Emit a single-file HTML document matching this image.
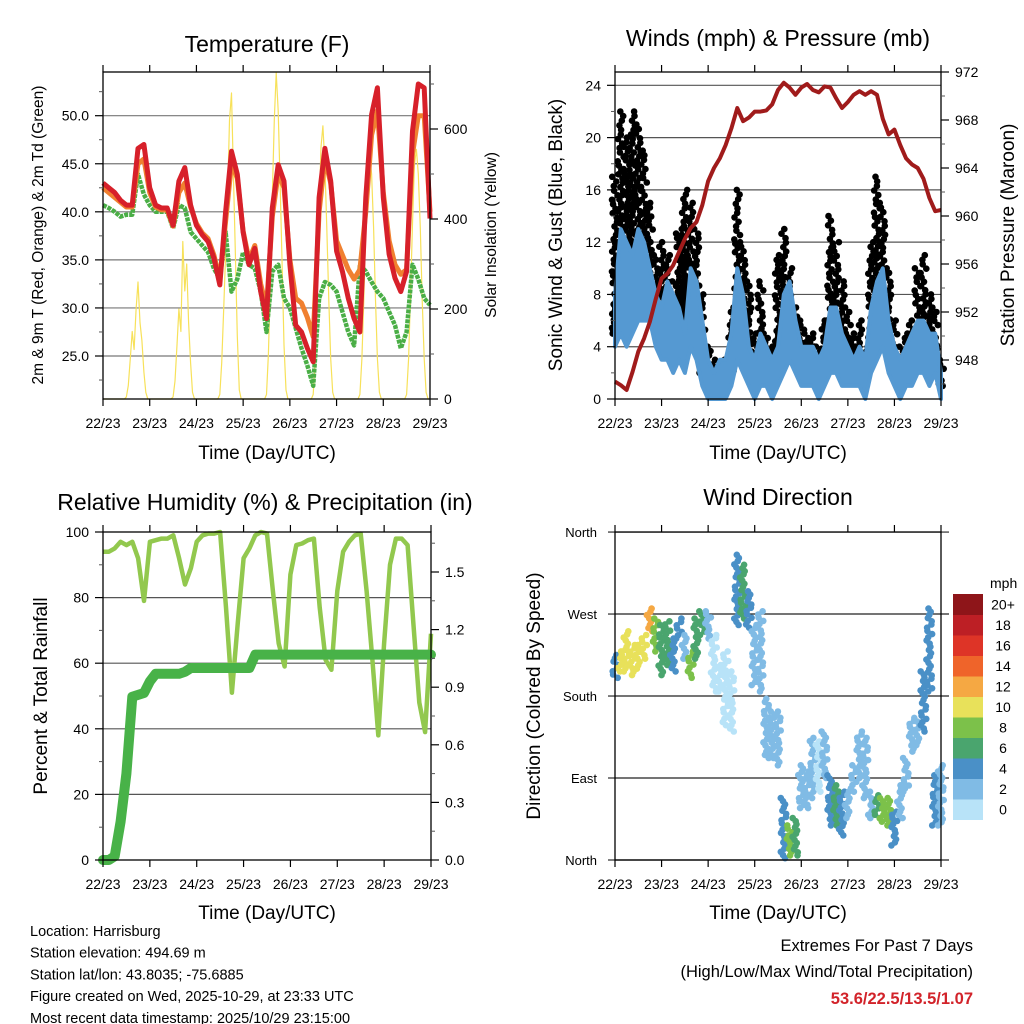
<!DOCTYPE html>
<html><head><meta charset="utf-8"><style>
html,body{margin:0;padding:0;background:#fff}
svg{display:block;font-family:"Liberation Sans",Arial,sans-serif}
</style></head><body>
<svg id="c" width="1024" height="1024" viewBox="0 0 1024 1024">
<rect x="0" y="0" width="1024" height="1024" fill="#fff"/>
<g id="g"></g>
</svg>
<script>
// ---------- DATA (3-hourly, index i -> hour 3*i) ----------
const dayLabels = ["22/23","23/23","24/23","25/23","26/23","27/23","28/23","29/23"];
const temp2m = [43,42.5,42,41.2,40.7,40.7,46.6,47,42.5,40.7,40.4,40.4,38.6,43.2,44.6,40.7,38.6,37.6,36.9,35.2,32.4,40,46.3,43.9,37.9,34.5,36.2,31.7,28.9,40.4,44.9,43.2,34.5,28.2,27.5,25.8,24.4,41.5,46.6,43.2,35.9,33.8,31,28.9,27.5,41.5,50.1,52.9,41.5,35.6,33.1,31.7,33.8,48.4,53.3,52.9,39.3];
const temp9m = [42.5,42,41.5,41,40.5,40.5,45,45.5,42,40.5,40.2,40.2,38.5,42,43,40.5,38.8,37.8,37.2,35.5,33,39,45,43.5,38,35,36.5,32.5,30,39.5,44,42.5,35,31,30.5,29,27,40,45.5,43,37,35.5,34,33,34,40,48,50.5,42,37,34.5,33.5,34,46,50,50,40];
const dewpt = [40.7,40.4,40,39.5,39.7,39.7,43.9,41.8,40.7,40,40,40,38.3,40.7,40.4,37.9,37.2,36.5,35.8,34.1,33,37.9,31.7,33,35.8,34.5,34.1,31.7,27.5,33.8,34.5,31,30,27.9,25.8,24,21.9,31,32.7,32.4,31.7,29.6,27.5,26.1,34.5,33.8,32.7,31.7,31,29.6,28.2,25.8,27.5,34.5,33,31,30.3];
// hourly solar insolation (169 values)
const solar = [
0,0,0,0,0,0,0,0,0,0,0,0, 5,30,90,150,110,200,260,170,130,60,15,0,
0,0,0,0,0,0,0,0,0,0,0,0, 5,40,120,200,150,350,240,300,170,80,15,0,
0,0,0,0,0,0,0,0,0,0,0,0, 10,80,200,320,450,620,680,500,320,140,20,0,
0,0,0,0,0,0,0,0,0,0,0,0, 10,100,260,450,620,725,640,480,300,120,20,0,
0,0,0,0,0,0,0,0,0,0,0,0, 10,90,240,420,560,607,520,380,220,90,15,0,
0,0,0,0,0,0,0,0,0,0,0,0, 10,90,220,380,500,540,500,380,220,90,15,0,
0,0,0,0,0,0,0,0,0,0,0,0, 10,90,230,390,520,555,500,380,220,90,15,0,
0];
const pressure = [946.2,945.9,945.5,947,948.7,949.8,951.2,953.1,954.8,955.2,955.9,957,958.1,959,959.5,960.9,962.9,964,964.8,965.9,967.3,969,967.9,968.2,968.7,968.7,968.8,969.3,970.5,971.1,970.7,970.1,970.7,971,970.5,970.3,970.8,970.7,969.8,969,969.5,970.1,970.4,970.1,970.4,970.1,968.1,966.8,967.2,965.9,964.8,964.3,964,963.1,961.5,960.4,960.5];
const windLo = [4,5,4,5,6,6,6,4,3,3,2,3,2,4,3,1,0,0,0,0,1,3,2,1,0,1,1,0,1,2,3,2,1,1,1,0,1,2,2,1,1,1,1,0,2,3,4,2,1,0,1,1,2,2,1,2,0];
const windHi = [8,13,12,11,13,12,10,8,7,9,8,7,5,10,9,6,3,2,3,3,5,10,8,4,3,5,4,3,4,8,9,6,4,4,4,3,4,7,7,5,4,3,4,3,7,9,10,6,4,3,4,5,6,6,5,5,2];
const gustLo = [5,8,9,8,8,9,8,6,5,5,4,6,6,7,5,2,1,1,1,1,2,4,3,2,1,2,2,1,3,4,4,3,2,2,2,2,3,4,4,3,2,2,2,2,4,6,5,3,2,2,2,3,3,4,3,2,1];
const gustHi = [17,22,20,22,21,19,15,11,12,11,9,13,16,15,13,8,4,3,2,3,7,16,12,9,5,9,5,4,11,13,10,7,6,5,5,4,6,14,12,9,7,5,6,4,12,17,15,10,6,4,5,6,10,11,8,7,3];
const rh = [94,94,95,97,96,97,92,79,97,97.5,98,98,99,92,84,89,97,99,99.5,99.5,100,77,51,72,92,95,99,100,99.5,82,66,59,87,96,96.5,97.5,98,77,61,58,82,94,97,99,99.5,82,61,38,66,90,98,98,96,72,48,39,69];
const precip = [0,0,0.02,0.2,0.45,0.85,0.86,0.87,0.93,0.97,0.97,0.97,0.97,0.97,0.98,1.0,1.0,1.0,1.0,1.0,1.0,1.0,1.0,1.0,1.0,1.0,1.07,1.07,1.07,1.07,1.07,1.07,1.07,1.07,1.07,1.07,1.07,1.07,1.07,1.07,1.07,1.07,1.07,1.07,1.07,1.07,1.07,1.07,1.07,1.07,1.07,1.07,1.07,1.07,1.07,1.07,1.07];
const dirLo = [200,207,207,203,210,221,251,229,203,214,207,243,221,200,221,247,243,185,185,148,141,258,265,255,192,185,112,112,104,2,5,5,57,57,68,75,90,38,38,27,46,75,90,68,46,46,42,38,16,46,75,119,126,141,185,38,38];
const dirHi = [225,229,251,236,236,247,276,265,258,262,243,265,247,229,265,273,273,247,214,229,207,335,324,295,258,273,177,163,163,68,38,46,104,97,134,130,141,93,82,75,75,104,141,134,75,71,68,68,53,82,112,156,152,207,276,93,104];
const dirSpd = [4,10,11,10,11,10,12,8,6,6,4,4,3,8,7,6,2,1,1,1,1,4,6,4,2,2,3,2,2,4,8,6,2,2,2,1,2,4,6,4,2,2,2,2,2,7,8,8,5,3,2,2,3,4,4,4,3];
const spdLabels = ["0","2","4","6","8","10","12","14","16","18","20+"];
const spdColors = ["#b8e3f8","#80bbe5","#4a90c7","#4aa56e","#7cc14a","#e8e15a","#f5a843","#ef642a","#de3427","#bd1f25","#8e1519"];

// ---------- helpers ----------
const NS="http://www.w3.org/2000/svg";
const G=document.getElementById('g');
function mk(tag,attrs,parent){const e=document.createElementNS(NS,tag);for(const k in attrs)e.setAttribute(k,attrs[k]);(parent||G).appendChild(e);return e;}
function txt(s,x,y,size,anchor,parent,extra){const t=mk('text',Object.assign({x:x,y:y,'font-size':size,'text-anchor':anchor||'middle',fill:'#000'},extra||{}),parent);t.textContent=s;return t;}

const P1={x0:103,x1:430,y0:72,y1:399};
const P2={x0:615,x1:941,y0:72,y1:399};
const P3={x0:103,x1:431,y0:532,y1:860};
const P4={x0:615,x1:941,y0:532,y1:860};
function xs(P,h){return P.x0+(P.x1-P.x0)*h/168;}
const yT=v=>356-(v-25)*9.612;
const yS=s=>399-s*0.45;
const yW=v=>399-v*13.07;
const yP=p=>360-(p-948)*12;
const yRH=v=>860-v*3.28;
const yPr=v=>860-v*192;
const yD=d=>860-d*0.911;
// deterministic jitter pattern (layout, not data)
const JIT=[0.13,0.71,0.42,0.94,0.27,0.58,0.05,0.83,0.36,0.66,0.19,0.49,0.77,0.31,0.88,0.02,0.54];
const jit=(n)=>JIT[n%17];

function frame(P,name){
  const g=mk('g',{});
  
  
  mk('rect',{x:P.x0,y:P.y0,width:P.x1-P.x0,height:P.y1-P.y0,fill:'none',stroke:'#000','stroke-width':1.3},g);
  const xl=mk('g',{});
  
  
  for(let d=0;d<8;d++){
    const x=xs(P,d*24);
    mk('line',{x1:x,y1:P.y1,x2:x,y2:P.y1+7,stroke:'#000','stroke-width':1.2},xl);
    mk('line',{x1:x,y1:P.y0,x2:x,y2:P.y0-7,stroke:'#000','stroke-width':1.2},xl);
    const t=txt(dayLabels[d],x,P.y1+29,14,'middle',xl);
    
    
  }
  return g;
}
function grid(P,y,color){mk('line',{x1:P.x0,y1:y,x2:P.x1,y2:y,stroke:color||'#777','stroke-width':1.2});}
function yticks(P,vals,fy,fmt,side,minor,name){
  const g=mk('g',{});
  
  
  vals.forEach(v=>{
    const y=fy(v);
    if(side==='L'){mk('line',{x1:P.x0-8,y1:y,x2:P.x0,y2:y,stroke:'#000','stroke-width':1.2},g);txt(fmt(v),P.x0-14,y+5,14,'end',g);}
    else{mk('line',{x1:P.x1,y1:y,x2:P.x1+8,y2:y,stroke:'#000','stroke-width':1.2},g);txt(fmt(v),P.x1+14,y+5,14,'start',g);}
  });
  (minor||[]).forEach(v=>{const y=fy(v);
    if(side==='L')mk('line',{x1:P.x0-4,y1:y,x2:P.x0,y2:y,stroke:'#555','stroke-width':1},g);
    else mk('line',{x1:P.x1,y1:y,x2:P.x1+4,y2:y,stroke:'#555','stroke-width':1},g);});
}
function rotText(s,x,y,size,name){const t=txt(s,0,0,size,'middle',G,{transform:`translate(${x},${y}) rotate(-90)`});return t;}
function pathFrom(P,arr,fy,step){return arr.map((v,i)=>(i?'L':'M')+xs(P,i*step).toFixed(1)+','+fy(v).toFixed(1)).join(' ');}

// ===== Panel 1: Temperature =====
let t;
t=txt("Temperature (F)",267,52,23);
[25,30,35,40,45,50].forEach(v=>grid(P1,yT(v)));
const sol=mk('path',{d:pathFrom(P1,solar,yS,1),fill:'none',stroke:'#f7e15a','stroke-width':1.2,'stroke-linejoin':'round'});


const dp=mk('path',{d:pathFrom(P1,dewpt,yT,3),fill:'none',stroke:'#4aae46','stroke-width':4.5,'stroke-dasharray':'4 1','stroke-linejoin':'round'});


const t9=mk('path',{d:pathFrom(P1,temp9m,yT,3),fill:'none',stroke:'#f08030','stroke-width':5,'stroke-linejoin':'round'});


const t2=mk('path',{d:pathFrom(P1,temp2m,yT,3),fill:'none',stroke:'#d7202a','stroke-width':5,'stroke-linejoin':'round'});


frame(P1,'temperature');
yticks(P1,[25,30,35,40,45,50],yT,v=>v.toFixed(1),'L',[22.5,27.5,32.5,37.5,42.5,47.5,52.5],'temp-y-axis');
yticks(P1,[0,200,400,600],yS,v=>String(v),'R',[100,300,500,700],'solar-y-axis');
rotText("2m & 9m T (Red, Orange) & 2m Td (Green)",43,235,15.5,'temp-y-axis-title');
rotText("Solar Insolation (Yellow)",496,235,15.5,'solar-y-axis-title');
t=txt("Time (Day/UTC)",267,459,19);

// ===== Panel 2: Winds & Pressure =====
t=txt("Winds (mph) & Pressure (mb)",778,46,23);
[4,8,12,16,20,24].forEach(v=>grid(P2,yW(v),'#555'));
let up=gustLo.map((v,i)=>xs(P2,i*3).toFixed(1)+','+yW(v+(gustHi[i]-v)*0.3).toFixed(1));
let dn=windLo.map((v,i)=>xs(P2,i*3).toFixed(1)+','+yW(v).toFixed(1)).reverse();
const gb=mk('polygon',{points:up.concat(dn).join(' '),fill:'#000',stroke:'#000','stroke-width':3,'stroke-linejoin':'round'});


const gd=mk('g',{});


let jc=0;
gustHi.forEach((v,i)=>{
  const lo=gustLo[i];const n=Math.max(5,Math.round((v-lo)*3.5));
  for(let k=0;k<=n;k++){
    const f=Math.pow(k/n,1.25);
    const val=lo+(v-lo)*f;
    const x=xs(P2,i*3-1.6+3.2*jit(jc*5+i));jc++;
    mk('circle',{cx:x.toFixed(1),cy:yW(val).toFixed(1),r:3.3,fill:'#000'},gd);
  }
});
up=windHi.map((v,i)=>xs(P2,i*3).toFixed(1)+','+yW(v).toFixed(1));
dn=windLo.map((v,i)=>xs(P2,i*3).toFixed(1)+','+yW(v).toFixed(1)).reverse();
const wb=mk('polygon',{points:up.concat(dn).join(' '),fill:'#5599d2',stroke:'#5599d2','stroke-width':4,'stroke-linejoin':'round'});


const pr=mk('path',{d:pathFrom(P2,pressure,yP,3),fill:'none',stroke:'#a01b1b','stroke-width':4,'stroke-linejoin':'round'});


frame(P2,'winds');
yticks(P2,[0,4,8,12,16,20,24],yW,v=>String(v),'L',[2,6,10,14,18,22],'wind-y-axis');
yticks(P2,[948,952,956,960,964,968,972],yP,v=>String(v),'R',[946,950,954,958,962,966,970],'pressure-y-axis');
rotText("Sonic Wind & Gust (Blue, Black)",562,235,19,'wind-y-axis-title');
rotText("Station Pressure (Maroon)",1014,235,19,'pressure-y-axis-title');
t=txt("Time (Day/UTC)",778,459,19);

// ===== Panel 3: RH & Precip =====
t=txt("Relative Humidity (%) & Precipitation (in)",265,510,23);
[20,40,60,80].forEach(v=>grid(P3,yRH(v),'#555'));
const rl=mk('path',{d:pathFrom(P3,rh,yRH,3),fill:'none',stroke:'#92c84e','stroke-width':4.5,'stroke-linejoin':'round'});


const pl=mk('path',{d:pathFrom(P3,precip,yPr,3),fill:'none',stroke:'#48b248','stroke-width':10,'stroke-linejoin':'round','stroke-linecap':'round'});


frame(P3,'rh');
yticks(P3,[0,20,40,60,80,100],yRH,v=>String(v),'L',[10,30,50,70,90],'rh-y-axis');
yticks(P3,[0,0.3,0.6,0.9,1.2,1.5],yPr,v=>v.toFixed(1),'R',[0.15,0.45,0.75,1.05,1.35,1.65],'precip-y-axis');
rotText("Percent & Total Rainfall",47,696,19,'rh-y-axis-title');
t=txt("Time (Day/UTC)",267,919,19);

// ===== Panel 4: Wind Direction =====
t=txt("Wind Direction",778,505,23);
const dirTicks=[0,90,180,270,360];const dirNames=["North","East","South","West","North"];
dirTicks.forEach(v=>mk('line',{x1:P4.x0,y1:yD(v),x2:P4.x1+8,y2:yD(v),stroke:'#222','stroke-width':1.2}));
const dg=mk('g',{});


let jd=0;
dirLo.forEach((lo,i)=>{
  const hi=dirHi[i];
  const col=spdColors[Math.min(10,Math.floor(dirSpd[i]/2))];
  const n=Math.max(4,Math.round((hi-lo)/3.5));
  for(let k=0;k<=n;k++){const v=lo+(hi-lo)*k/n;
    const x=xs(P4,i*3-1.6+3.2*jit(jd*7+3));jd++;
    mk('circle',{cx:x.toFixed(1),cy:yD(v).toFixed(1),r:3.3,fill:col},dg);}
});
frame(P4,'direction');
const dyl=mk('g',{});


dirTicks.forEach((v,i)=>{mk('line',{x1:P4.x0-7,y1:yD(v),x2:P4.x0,y2:yD(v),stroke:'#000'},dyl);txt(dirNames[i],P4.x0-18,yD(v)+5,13,'end',dyl);});
rotText("Direction (Colored By Speed)",540,696,19,'direction-y-axis-title');
t=txt("Time (Day/UTC)",778,919,19);
const cb=mk('g',{});


const cbTop=594,cbH=20.5;
txt("mph",990,588,14,'start',cb);
spdColors.forEach((c,i)=>{const y=cbTop+(10-i)*cbH;
  mk('rect',{x:953,y:y,width:30,height:cbH+0.5,fill:c},cb);
  txt(spdLabels[i],1003,y+cbH/2+5,14,'middle',cb);});

// ===== Info text =====
const info=["Location: Harrisburg","Station elevation: 494.69 m","Station lat/lon: 43.8035; -75.6885","Figure created on Wed, 2025-10-29, at 23:33 UTC","Most recent data timestamp: 2025/10/29 23:15:00"];
const ig=mk('g',{});


info.forEach((s,i)=>txt(s,30,936+i*21.7,14.5,'start',ig));
const eg=mk('g',{});


txt("Extremes For Past 7 Days",973,951,16.5,'end',eg);
txt("(High/Low/Max Wind/Total Precipitation)",973,977,16.5,'end',eg);
txt("53.6/22.5/13.5/1.07",973,1004,16.5,'end',eg,{fill:'#d2232a','font-weight':'bold'});
</script>
</body></html>
